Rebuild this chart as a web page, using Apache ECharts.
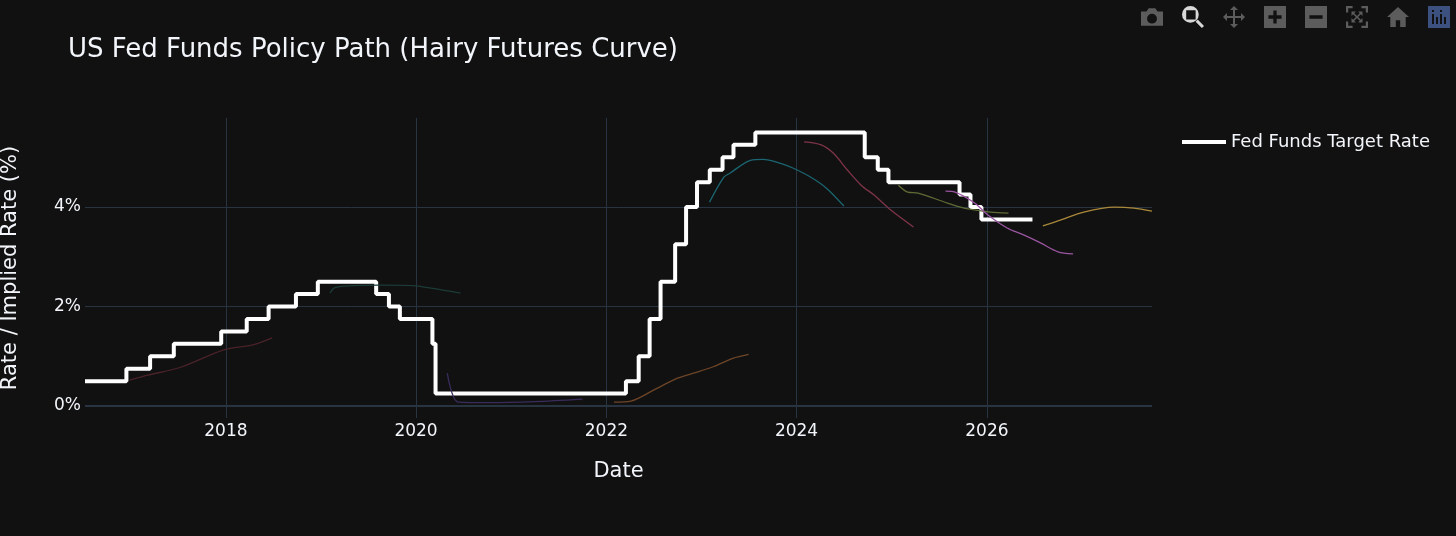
<!DOCTYPE html>
<html>
<head>
<meta charset="utf-8">
<title>US Fed Funds Policy Path</title>
<script src="https://cdn.jsdelivr.net/npm/echarts@6/dist/echarts.min.js"></script>
<style>
  html, body { margin: 0; padding: 0; background: #111111; }
  #main { width: 1456px; height: 536px; }
</style>
</head>
<body>
<div id="main"></div>
<script>
// fed funds target (upper bound), date the rate takes effect
var fedDates = ['2016-07-09', '2016-12-15', '2017-03-16', '2017-06-15', '2017-12-14', '2018-03-22',
    '2018-06-14', '2018-09-27', '2018-12-20', '2019-08-01', '2019-09-19', '2019-10-31', '2020-03-04',
    '2020-03-16', '2022-03-17', '2022-05-05', '2022-06-16', '2022-07-28', '2022-09-22', '2022-11-03',
    '2022-12-15', '2023-02-02', '2023-03-23', '2023-05-04', '2023-07-27', '2024-09-19', '2024-11-08',
    '2024-12-19', '2025-09-18', '2025-10-30', '2025-12-11', '2026-06-25'];
var fedRates = [0.5, 0.75, 1.0, 1.25, 1.5, 1.75, 2.0, 2.25, 2.5, 2.25, 2.0, 1.75, 1.25,
    0.25, 0.5, 1.0, 1.75, 2.5, 3.25, 4.0, 4.5, 4.75, 5.0, 5.25, 5.5, 5.0, 4.75,
    4.5, 4.25, 4.0, 3.75, 3.75];

// implied futures curves (the "hairs")
var hair2017Dates = ['2016-12-28', '2017-03-07', '2017-07-12', '2017-12-24', '2018-04-15', '2018-06-28'];
var hair2017Rates = [0.52, 0.62, 0.78, 1.13, 1.23, 1.37];
var hair2019Dates = ['2019-02-05', '2019-02-20', '2019-04-01', '2019-08-15', '2019-12-20', '2020-02-28', '2020-06-20'];
var hair2019Rates = [2.27, 2.37, 2.41, 2.43, 2.42, 2.37, 2.27];
var hair2020Dates = ['2020-04-30', '2020-06-10', '2020-10-01', '2021-04-01', '2021-10-01'];
var hair2020Rates = [0.66, 0.08, 0.07, 0.09, 0.14];
var hair2022Dates = ['2022-01-30', '2022-04-05', '2022-07-01', '2022-10-01', '2022-12-01', '2023-02-15', '2023-05-01', '2023-07-01'];
var hair2022Rates = [0.08, 0.10, 0.32, 0.56, 0.66, 0.79, 0.96, 1.04];
var hair2023Dates = ['2023-02-01', '2023-03-28', '2023-04-20', '2023-07-08', '2023-08-25', '2023-11-01',
    '2023-12-20', '2024-02-25', '2024-04-25', '2024-07-01'];
var hair2023Rates = [4.10, 4.60, 4.68, 4.94, 4.96, 4.88, 4.78, 4.60, 4.38, 4.02];
var hair2024Dates = ['2024-01-30', '2024-04-05', '2024-05-22', '2024-07-15', '2024-09-05', '2024-10-25', '2024-12-28', '2025-03-25'];
var hair2024Rates = [5.31, 5.25, 5.08, 4.74, 4.44, 4.24, 3.94, 3.60];
var hair2025aDates = ['2025-01-26', '2025-03-03', '2025-04-12', '2025-08-03', '2025-10-05', '2026-01-15', '2026-03-25'];
var hair2025aRates = [4.44, 4.30, 4.28, 4.08, 3.98, 3.90, 3.88];
var hair2025bDates = ['2025-07-26', '2025-09-01', '2025-11-15', '2026-01-05', '2026-03-20', '2026-05-22', '2026-07-26', '2026-10-01', '2026-11-28'];
var hair2025bRates = [4.32, 4.30, 4.08, 3.84, 3.58, 3.44, 3.28, 3.10, 3.06];
var hair2026Dates = ['2026-08-04', '2026-10-12', '2027-01-08', '2027-05-05', '2027-07-20', '2027-09-27'];
var hair2026Rates = [3.62, 3.74, 3.90, 4.00, 3.98, 3.92];

var hairColors = ['#4a2329', '#1b3b37', '#392c5b', '#6e4527', '#1b6671', '#7e3448', '#5f6b35', '#9a55a0', '#aa883a'];
var tickYears = [2018, 2020, 2022, 2024, 2026];
var yTicks = [0, 2, 4];
var xStart = '2016-07-09', xEnd = '2027-09-27';

var FONT = 'DejaVu Sans, Verdana, sans-serif';

// 'YYYY-MM-DD' -> ms timestamp (UTC)
function ts(s) {
    var p = s.split('-');
    return Date.UTC(+p[0], +p[1] - 1, +p[2]);
}

function pairs(dates, rates) {
    var out = [];
    for (var i = 0; i < dates.length; i++) out.push([ts(dates[i]), rates[i]]);
    return out;
}

var myChart = echarts.init(document.getElementById('main'));

var hairs = [
    pairs(hair2017Dates, hair2017Rates), pairs(hair2019Dates, hair2019Rates), pairs(hair2020Dates, hair2020Rates),
    pairs(hair2022Dates, hair2022Rates), pairs(hair2023Dates, hair2023Rates), pairs(hair2024Dates, hair2024Rates),
    pairs(hair2025aDates, hair2025aRates), pairs(hair2025bDates, hair2025bRates), pairs(hair2026Dates, hair2026Rates)
];

var seriesObj = [{
    name: 'Fed Funds Target Rate',
    type: 'line',
    step: 'end',
    showSymbol: false,
    lineStyle: { color: '#ffffff', width: 4 },
    itemStyle: { color: '#ffffff' },
    data: pairs(fedDates, fedRates),
    z: 3,
    markLine: {
        silent: true,
        symbol: 'none',
        label: { show: false },
        lineStyle: { color: '#283442', width: 2, type: 'solid' },
        data: [{ yAxis: 0 }]
    }
}];
hairs.forEach(function (d, i) {
    seriesObj.push({
        name: 'curve' + i,
        type: 'line',
        showSymbol: false,
        smooth: 0.3,
        lineStyle: { color: hairColors[i], width: 1.3 },
        data: d,
        z: 4
    });
});

var tickTimes = tickYears.map(function (y) { return Date.UTC(y, 0, 1); });

var greyIcon = { color: '#5c5c5c', borderWidth: 0 };
var option = {
    backgroundColor: '#111111',
    animation: false,
    textStyle: { fontFamily: FONT },
    title: {
        text: 'US Fed Funds Policy Path (Hairy Futures Curve)',
        left: 63,
        top: 32,
        textStyle: { color: '#f2f5fa', fontSize: 26, fontWeight: 'normal', fontFamily: FONT }
    },
    toolbox: {
        right: 6,
        top: 6,
        padding: 0,
        itemSize: 22,
        itemGap: 19,
        iconStyle: greyIcon,
        feature: {
            mySnap: { title: 'snapshot', icon: 'path://M2,7 h5 l2,-3 h6 l2,3 h5 v13 h-20 z M16.5,13.5 a4.5,4.5 0 1,0 -9,0 a4.5,4.5 0 1,0 9,0 z', iconStyle: greyIcon, onclick: function () {} },
            myZoom: { title: 'zoom', icon: 'path://M10,1 a8,8 0 1,1 -0.01,0 z M6,5 v9 h9 v-9 z M15,16 l2,-2 l6,6 l-2,2 z', iconStyle: { color: '#d8d8d8', borderWidth: 0 }, onclick: function () {} },
            myPan: { title: 'pan', icon: 'path://M12,1 l4,4 h-3 v6 h6 v-3 l4,4 l-4,4 v-3 h-6 v6 h3 l-4,4 l-4,-4 h3 v-6 h-6 v3 l-4,-4 l4,-4 v3 h6 v-6 h-3 z', iconStyle: greyIcon, onclick: function () {} },
            myIn: { title: 'zoom in', icon: 'path://M2,2 h20 v20 h-20 z M10.5,6 v4.5 h-4.5 v3 h4.5 v4.5 h3 v-4.5 h4.5 v-3 h-4.5 v-4.5 z', iconStyle: greyIcon, onclick: function () {} },
            myOut: { title: 'zoom out', icon: 'path://M2,2 h20 v20 h-20 z M6,10.5 v3 h12 v-3 z', iconStyle: greyIcon, onclick: function () {} },
            myAuto: { title: 'autoscale', icon: 'path://M2,2 h6 v2 h-4 v4 h-2 z M22,2 v6 h-2 v-4 h-4 v-2 z M2,22 v-6 h2 v4 h4 v2 z M22,22 h-6 v-2 h4 v-4 h2 z M7,7 h4 l-1.5,1.5 l2.5,2.5 l2.5,-2.5 l-1.5,-1.5 h4 v4 l-1.5,-1.5 l-2.5,2.5 l2.5,2.5 l1.5,-1.5 v4 h-4 l1.5,-1.5 l-2.5,-2.5 l-2.5,2.5 l1.5,1.5 h-4 v-4 l1.5,1.5 l2.5,-2.5 l-2.5,-2.5 l-1.5,1.5 z', iconStyle: greyIcon, onclick: function () {} },
            myHome: { title: 'reset', icon: 'path://M12,3 l10,9 h-3 v9 h-5 v-6 h-4 v6 h-5 v-9 h-3 z', iconStyle: greyIcon, onclick: function () {} },
            myLogo: { title: 'plotly', icon: 'path://M1,1 h22 v22 h-22 z M5,9 v10 h2 v-10 z M9,12 v7 h2 v-7 z M13,9 v10 h2 v-10 z M17,12 v7 h2 v-7 z M5,5 v2 h2 v-2 z M13,5 v2 h2 v-2 z', iconStyle: { color: '#3d5180', borderWidth: 0 }, onclick: function () {} }
        }
    },
    legend: {
        data: ['Fed Funds Target Rate'],
        left: 1177,
        top: 128,
        icon: 'rect',
        itemWidth: 44,
        itemHeight: 4,
        textStyle: { color: '#f2f5fa', fontSize: 18, fontFamily: FONT }
    },
    grid: {
        left: 85,
        right: 304,
        top: 118,
        bottom: 118,
        outerBoundsMode: 'none'
    },
    xAxis: {
        type: 'value',
        name: 'Date',
        nameLocation: 'middle',
        nameGap: 43,
        nameTextStyle: { color: '#f2f5fa', fontSize: 21, fontFamily: FONT },
        min: ts(xStart),
        max: ts(xEnd),
        axisLine: { show: false, onZero: false },
        axisTick: { show: false, customValues: tickTimes },
        axisLabel: {
            customValues: tickTimes,
            color: '#f2f5fa',
            fontSize: 17,
            margin: 5,
            formatter: function (v) { return String(new Date(v).getUTCFullYear()); }
        },
        splitLine: { show: true, lineStyle: { color: '#283442', width: 1 } }
    },
    yAxis: {
        type: 'value',
        name: 'Rate / Implied Rate (%)',
        nameLocation: 'middle',
        nameGap: 64,
        nameTextStyle: { color: '#f2f5fa', fontSize: 21, fontFamily: FONT },
        min: -0.24,
        max: 5.79,
        axisLine: { show: false },
        axisTick: { show: false, customValues: yTicks },
        axisLabel: {
            customValues: yTicks,
            color: '#f2f5fa',
            fontSize: 17,
            margin: 4,
            formatter: function (v) { return v + '%'; }
        },
        splitLine: { show: true, lineStyle: { color: '#283442', width: 1 } }
    },
    series: seriesObj
};

myChart.setOption(option);
</script>
</body>
</html>
